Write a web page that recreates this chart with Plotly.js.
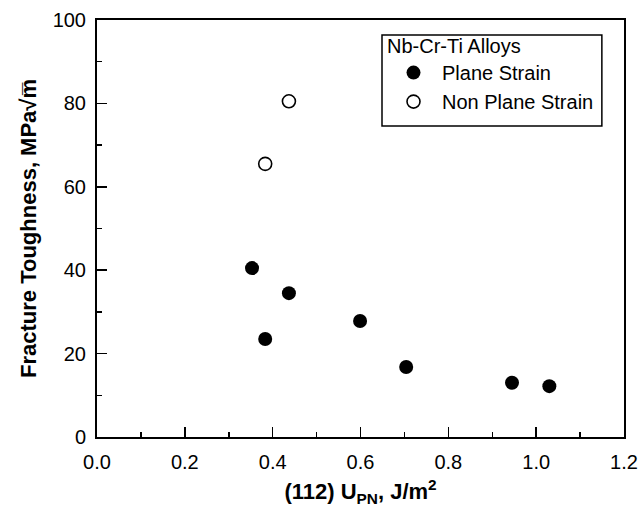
<!DOCTYPE html>
<html>
<head>
<meta charset="utf-8">
<script src="https://cdn.plot.ly/plotly-3.0.1.min.js"></script>
<style>html,body{margin:0;padding:0;background:#fff;}#chart{width:639px;height:516px;}</style>
</head>
<body>
<div id="chart"></div>
<script>
// Data
const planeStrainX = [0.353, 0.383, 0.437, 0.599, 0.704, 0.945, 1.030];
const planeStrainY = [40.5, 23.5, 34.5, 27.8, 16.8, 13.0, 12.2];
const nonPlaneStrainX = [0.383, 0.437];
const nonPlaneStrainY = [65.5, 80.5];
const seriesNames = ["Plane Strain", "Non Plane Strain"];
const legendTitle = "Nb-Cr-Ti Alloys";
const xTitle = "<b>(112) U<sub>PN</sub>, J/m<sup>2</sup></b>";
const yTitle = "<b>Fracture Toughness, MPa√m̅</b>";

const FONT = "Liberation Sans, Arial, Helvetica, sans-serif";

const traces = [
  {
    x: planeStrainX, y: planeStrainY, name: seriesNames[0],
    type: "scatter", mode: "markers",
    marker: {symbol: "circle", size: 14, color: "#000", line: {width: 0}}
  },
  {
    x: nonPlaneStrainX, y: nonPlaneStrainY, name: seriesNames[1],
    type: "scatter", mode: "markers",
    marker: {symbol: "circle-open", size: 13, color: "#000", line: {width: 1.6, color: "#000"}}
  }
];

const axisCommon = {
  showgrid: false, zeroline: false,
  showline: true, linecolor: "#000", linewidth: 2, mirror: true,
  ticks: "inside", ticklen: 10, tickwidth: 1.5, tickcolor: "#000",
  tickfont: {family: FONT, size: 20, color: "#000"},
  minor: {ticks: "inside", ticklen: 5, tickwidth: 1.5, tickcolor: "#000", showgrid: false}
};

const layout = {
  width: 639, height: 516,
  margin: {l: 97, r: 15, t: 20, b: 79},
  paper_bgcolor: "#fff", plot_bgcolor: "#fff",
  showlegend: true,
  font: {family: FONT, color: "#000"},
  xaxis: Object.assign({}, axisCommon, {
    range: [0, 1.2], tickmode: "linear", tick0: 0, dtick: 0.2, tickformat: ".1f",
    minor: Object.assign({}, axisCommon.minor, {dtick: 0.1}),
    ticklabelstandoff: 6,
    title: {text: xTitle, font: {family: FONT, size: 22, color: "#000"}, standoff: 12}
  }),
  yaxis: Object.assign({}, axisCommon, {
    range: [0, 100], tickmode: "linear", tick0: 0, dtick: 20,
    minor: Object.assign({}, axisCommon.minor, {dtick: 10}),
    ticklabelstandoff: 5,
    title: {text: yTitle, font: {family: FONT, size: 22, color: "#000"}, standoff: 10}
  }),
  shapes: [
    {type: "rect", xref: "paper", yref: "paper",
     x0: 0.5408, x1: 0.958, y0: 0.7458, y1: 0.964,
     line: {color: "#000", width: 1.5}, fillcolor: "rgba(0,0,0,0)", layer: "above"}
  ],
  legend: {
    x: 0.5465, y: 0.983, xanchor: "left", yanchor: "top",
    bgcolor: "rgba(0,0,0,0)", borderwidth: 0,
    font: {family: FONT, size: 20, color: "#000"},
    title: {text: legendTitle, font: {family: FONT, size: 20, color: "#000"}},
    tracegroupgap: 0, itemwidth: 47
  }
};

Plotly.newPlot("chart", traces, layout, {staticPlot: true, displayModeBar: false});
</script>
</body>
</html>
